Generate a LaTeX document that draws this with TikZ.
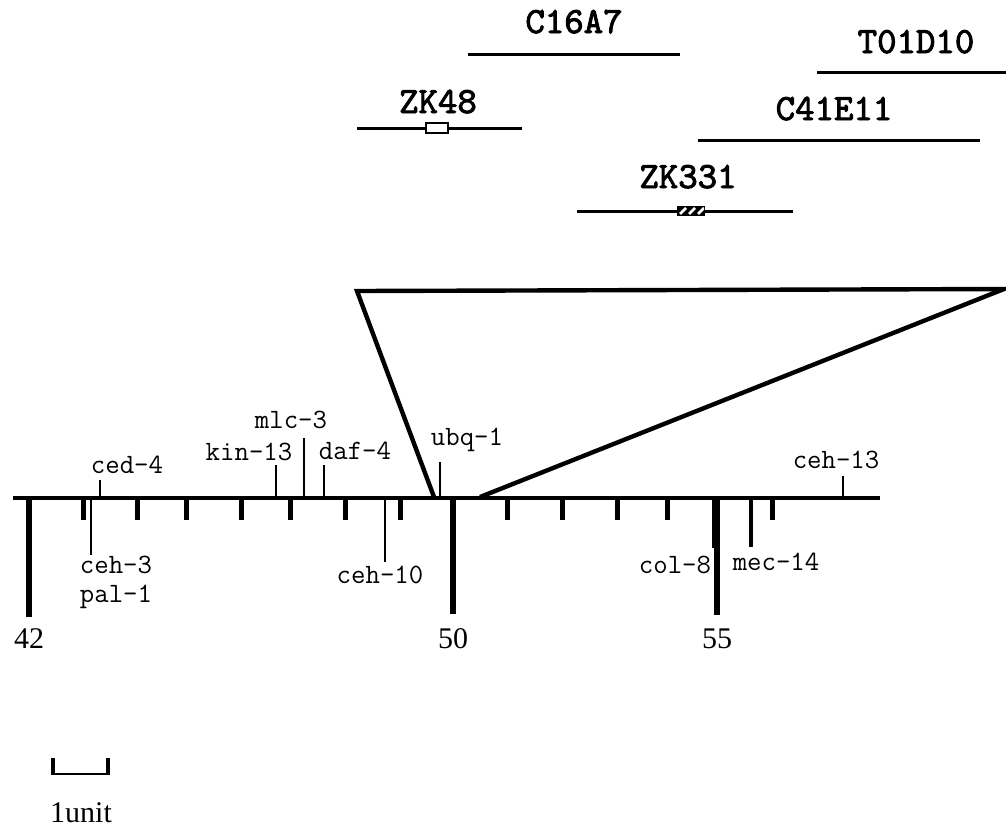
\documentclass[tikz,border=0pt]{standalone}
\usepackage{fontspec}
\setmainfont{Liberation Serif}
\newfontfamily\clonefont{lmmono10-regular.otf}[FakeBold=2.5]
\usetikzlibrary{calc}
\tikzset{
  axisline/.style   = {line width=1.75pt},
  bigtick/.style    = {line width=3pt},
  smalltick/.style  = {line width=2.5pt},
  genemark/.style   = {line width=1pt},
  genelabel/.style  = {font=\fontsize{14}{14}\selectfont\ttfamily,
                       inner sep=0pt, anchor=base},
  clonelabel/.style = {font=\fontsize{18.5}{18.5}\selectfont\clonefont,
                       inner sep=0pt, anchor=base},
  cloneline/.style  = {line width=1.5pt},
  mapnum/.style     = {font=\fontsize{15}{15}\selectfont,
                       inner sep=0pt, anchor=base},
  zoomline/.style   = {line width=2.2pt, line join=miter},
}

\begin{document}
\begin{tikzpicture}[x=0.5pt, y=-0.5pt]
  \useasboundingbox (0,0) rectangle (1006,836);

  % clones
  \node[clonelabel] (c16a7)  at (574,33)  {C16A7};
  \node[clonelabel] (t01d10) at (916,53)  {T01D10};
  \node[clonelabel] (zk48)   at (438,113) {ZK48};
  \node[clonelabel] (c41e11) at (834,120) {C41E11};
  \node[clonelabel] (zk331)  at (688,188) {ZK331};

  \coordinate (c16a7-w)  at (468,54);  \coordinate (c16a7-e)  at (680,54);
  \coordinate (t01d10-w) at (817,72);  \coordinate (t01d10-e) at (1006,72);
  \coordinate (zk48-w)   at (357,128); \coordinate (zk48-e)   at (522,128);
  \coordinate (c41e11-w) at (698,140); \coordinate (c41e11-e) at (980,140);
  \coordinate (zk331-w)  at (577,211); \coordinate (zk331-e)  at (793,211);

  \foreach \cl in {c16a7, t01d10, zk48, c41e11, zk331}
    \draw[cloneline] (\cl-w) -- (\cl-e);

  % probe boxes
  \draw[line width=1.2pt, fill=white] (426,123) rectangle (448,133);
  \fill (677,206) rectangle (705,216);
  \begin{scope}
    \clip (678,207) rectangle (704,215);
    \foreach \hx in {683,692,701}
      \draw[white, line width=1.3pt] (\hx-3,214) -- (\hx+3,208);
  \end{scope}

  % expanded region
  \coordinate (zoom-tl) at (357,291);
  \coordinate (zoom-tr) at (1004,289);
  \coordinate (zoom-bl) at (434,497);
  \coordinate (zoom-br) at (480,497);
  \draw[zoomline] (zoom-bl) -- (zoom-tl) -- (zoom-tr) -- (zoom-br);

  % map axis
  \coordinate (axis-w) at (13,498);
  \coordinate (axis-e) at (880,498);
  \draw[axisline] (axis-w) -- (axis-e);

  \foreach \tx in {83,137,186,241,290,345,400,507,562,617,667,772}
    \draw[smalltick] (\tx,498) -- (\tx,520);

  \foreach \tx/\tb/\num in {29/617/42, 453/614/50, 717/615/55}{
    \draw[bigtick] (\tx,498) -- (\tx,\tb);
    \node[mapnum] (n\num) at (\tx,648) {\num};
  }

  % genes
  \foreach \gn/\mx/\my/\lx/\ly/\txt in {
      ced4/100/480/127/473/ced-4,
      kin13/276/465/249/460/kin-13,
      mlc3/304/438/291/428/mlc-3,
      daf4/324/465/355/459/daf-4,
      ubq1/440/462/467/445/ubq-1,
      ceh13/843/476/836/468/ceh-13,
      ceh3/91/555/116/573/ceh-3,
      ceh10/385/562/380/583/ceh-10,
      col8/713/548/675/573/col-8}{
    \coordinate (\gn-a) at (\mx,498);
    \coordinate (\gn-e) at (\mx,\my);
    \draw[genemark] (\gn-a) -- (\gn-e);
    \node[genelabel] (\gn) at (\lx,\ly) {\txt};
  }
  \node[genelabel] (pal1) at (116,602) {pal-1};
  \coordinate (mec14-a) at (751,498);
  \coordinate (mec14-e) at (751,547);
  \draw[genemark, line width=1.6pt] (mec14-a) -- (mec14-e);
  \node[genelabel] (mec14) at (776,570) {mec-14};

  % scale bar
  \coordinate (bar-l) at (53,758);
  \coordinate (bar-r) at (108,758);
  \draw[line width=2pt] (bar-l) -- ($(bar-l)+(0,17)$);
  \draw[line width=2pt] (bar-r) -- ($(bar-r)+(0,17)$);
  \draw[line width=1pt] ($(bar-l)+(0,16)$) -- ($(bar-r)+(0,16)$);
  \node[mapnum] (unit) at (81,822) {1unit};
\end{tikzpicture}
\end{document}
